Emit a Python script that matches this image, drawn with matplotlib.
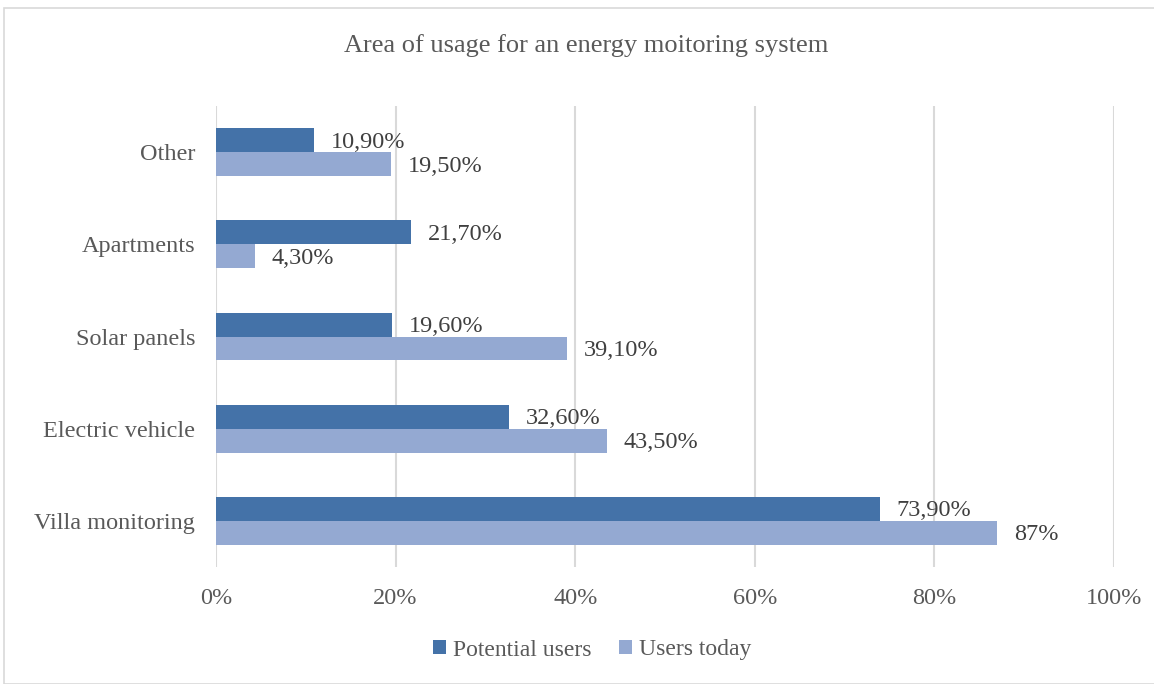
import matplotlib
matplotlib.use("Agg")
import matplotlib.pyplot as plt
from matplotlib.patches import Rectangle, Patch
import numpy as np

categories = ["Villa monitoring", "Electric vehicle", "Solar panels", "Apartments", "Other"]
potential_users = [73.9, 32.6, 19.6, 21.7, 10.9]
users_today = [87.0, 43.5, 39.1, 4.3, 19.5]
potential_labels = ["73,90%", "32,60%", "19,60%", "21,70%", "10,90%"]
today_labels = ["87%", "43,50%", "39,10%", "4,30%", "19,50%"]
xticks = [0, 20, 40, 60, 80, 100]
xtick_labels = ["0%", "20%", "40%", "60%", "80%", "100%"]

title = "Area of usage for an energy moitoring system"
c_dark = "#4472A8"
c_light = "#94A9D2"
text_col = "#595959"
label_col = "#404040"

plt.rcParams['font.family'] = ['Liberation Serif', 'DejaVu Serif']

W, H = 1154, 684
fig = plt.figure(figsize=(W / 100, H / 100), dpi=100)
fig.patch.set_facecolor("white")

# chart border
fig.patches.append(Rectangle((4 / W, 0), 1.2, 1 - 8 / H, transform=fig.transFigure,
                             fill=False, edgecolor="#D9D9D9", linewidth=1.2))

ax = fig.add_axes([216 / W, (H - 567) / H, (1114 - 216) / W, (567 - 106) / H])
y = np.arange(len(categories))
bh = 0.26
ax.barh(y + bh / 2, potential_users, height=bh, color=c_dark, zorder=3)
ax.barh(y - bh / 2, users_today, height=bh, color=c_light, zorder=3)

fs = 17.5
for yi, v, lab in zip(y, potential_users, potential_labels):
    ax.annotate(lab, (v, yi + bh / 2), xytext=(12, -1.5), textcoords="offset points",
                va="center", ha="left", fontsize=fs, color=label_col)
for yi, v, lab in zip(y, users_today, today_labels):
    ax.annotate(lab, (v, yi - bh / 2), xytext=(12, -1.5), textcoords="offset points",
                va="center", ha="left", fontsize=fs, color=label_col)

ax.set_xlim(0, 100)
ax.set_ylim(-0.5, len(categories) - 0.5)
ax.set_xticks(xticks)
ax.set_xticklabels(xtick_labels, fontsize=fs, color=text_col)
ax.set_yticks(y)
ax.set_yticklabels(categories, fontsize=fs, color=text_col)
ax.tick_params(axis="both", length=0)
ax.tick_params(axis="x", pad=15)
ax.tick_params(axis="y", pad=15)
ax.grid(axis="x", color="#D9D9D9", linewidth=1.5, zorder=0)
for s in ax.spines.values():
    s.set_visible(False)

fig.text(586 / W, 1 - 46 / H, title, ha="center", va="center", fontsize=19, color=text_col)

handles = [Patch(facecolor=c_dark, label="Potential users"),
           Patch(facecolor=c_light, label="Users today")]
fig.legend(handles=handles, loc="center", bbox_to_anchor=(592 / W, 1 - 650 / H), ncol=2,
           frameon=False, fontsize=17, handlelength=0.55, handleheight=0.55,
           handletextpad=0.3, columnspacing=1.15, labelcolor=text_col)

fig.savefig("out.png", dpi=100)
